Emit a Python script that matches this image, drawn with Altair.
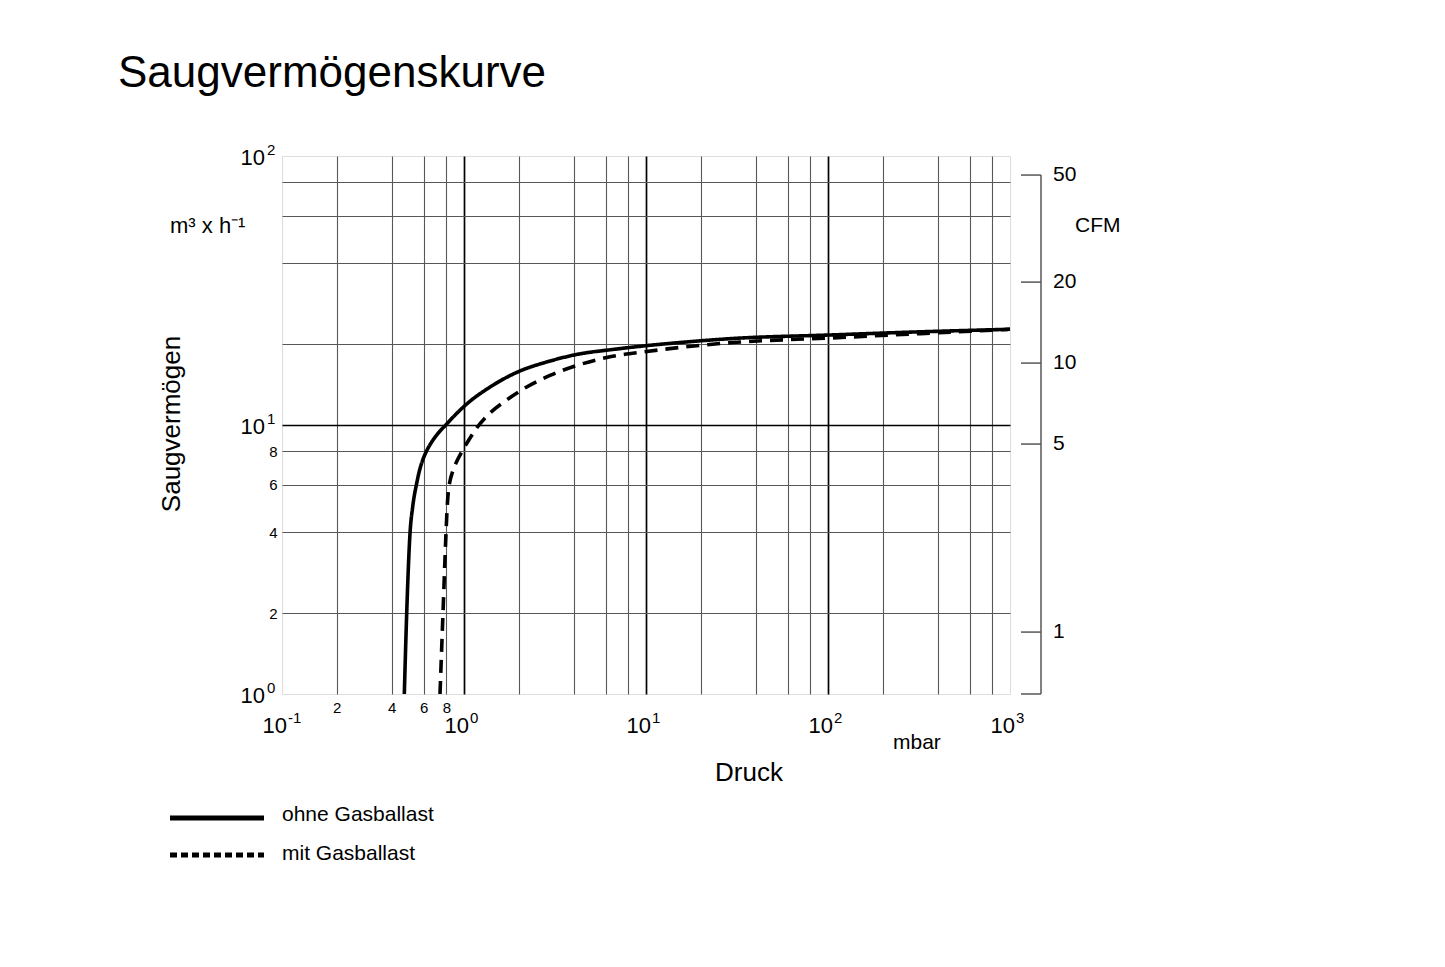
import altair as alt
import pandas as pd

# ---------------- data ----------------
series_names = ["ohne Gasballast", "mit Gasballast"]

druck_ohne = [0.470, 0.4844, 0.5051, 0.5226, 0.5496, 0.5731, 0.5976, 0.6238, 0.6783, 0.8034, 1.035, 1.390, 2.031, 2.848, 4.161, 6.587, 10.26, 15.38, 30.06, 102.6, 300.6, 1000.0]
saug_ohne = [1.00, 2.00, 3.958, 4.97, 6.07, 6.885, 7.508, 8.02, 8.825, 10.09, 11.97, 13.84, 15.88, 17.15, 18.29, 19.09, 19.75, 20.26, 20.97, 21.61, 22.17, 22.69]

druck_mit = [0.7382, 0.7666, 0.7963, 0.8087, 0.8197, 0.8378, 0.8646, 0.9036, 0.9714, 1.0585, 1.1744, 1.390, 1.716, 2.118, 2.969, 4.161, 6.083, 10.09, 15.38, 30.06, 102.6, 377.5, 1000.0]
saug_mit = [1.00, 2.00, 3.96, 4.97, 5.635, 6.193, 6.688, 7.223, 7.94, 8.758, 9.746, 11.08, 12.39, 13.61, 15.28, 16.64, 17.82, 18.76, 19.42, 20.26, 21.06, 21.98, 22.69]

x_grid = [0.2, 0.4, 0.6, 0.8, 1, 2, 4, 6, 8, 10, 20, 40, 60, 80, 100, 200, 400, 600, 800]
y_grid = [2, 4, 6, 8, 10, 20, 40, 60, 80]
x_decades = [0.1, 1, 10, 100, 1000]
x_exps = ["-1", "0", "1", "2", "3"]
y_decades = [1, 10, 100]
y_exps = ["0", "1", "2"]
cfm_ticks = [1, 5, 10, 20, 50]
CFM_TO_M3H = 1.699

# ---------------- layout / style ----------------
W, H = 728, 538
FONT = "Liberation Sans"
GRID_GRAY = "#575757"

curves = pd.DataFrame({
    "druck": druck_ohne + druck_mit,
    "saug": saug_ohne + saug_mit,
    "serie": [series_names[0]] * len(druck_ohne) + [series_names[1]] * len(druck_mit),
})

xscale = alt.Scale(type="log", domain=[0.1, 1000])
yscale = alt.Scale(type="log", domain=[1, 100])

dec_x = "datum.value == 1 || datum.value == 10 || datum.value == 100"
dec_y = "datum.value == 10"

x_axis = alt.Axis(
    values=x_grid, grid=True, ticks=False, domain=False, title=None,
    gridColor={"condition": {"test": dec_x, "value": "#000000"}, "value": GRID_GRAY},
    gridWidth={"condition": {"test": dec_x, "value": 1.7}, "value": 1.1},
    labelExpr="(datum.value > 0.15 && datum.value < 0.9) ? format(datum.value * 10, 'd') : ''",
    labelFont=FONT, labelFontSize=15, labelColor="#000", labelPadding=6,
    labelOverlap=False, labelFlush=False,
)
y_axis = alt.Axis(
    values=y_grid, grid=True, ticks=False, domain=False, title=None,
    gridColor={"condition": {"test": dec_y, "value": "#000000"}, "value": GRID_GRAY},
    gridWidth={"condition": {"test": dec_y, "value": 1.7}, "value": 1.1},
    labelExpr="(datum.value > 1.5 && datum.value < 9) ? format(datum.value, 'd') : ''",
    labelFont=FONT, labelFontSize=15, labelColor="#000", labelPadding=5,
    labelOverlap=False, labelFlush=False,
)

lines = alt.Chart(curves).mark_line(interpolate="monotone", strokeWidth=3.6, color="#000").encode(
    x=alt.X("druck:Q", scale=xscale, axis=x_axis),
    y=alt.Y("saug:Q", scale=yscale, axis=y_axis),
    strokeDash=alt.StrokeDash("serie:N", scale=alt.Scale(domain=series_names, range=[[1, 0], [13, 8]]), legend=None),
)

# decade labels on x axis
xdec = pd.DataFrame({"druck": x_decades, "exp": x_exps})
xdec_base = alt.Chart(xdec).mark_text(align="right", baseline="alphabetic", font=FONT, fontSize=22, dx=5, color="#000").encode(
    x="druck:Q", y=alt.value(H + 39), text=alt.value("10"))
xdec_exp = alt.Chart(xdec).mark_text(align="left", baseline="alphabetic", font=FONT, fontSize=15, dx=6, color="#000").encode(
    x="druck:Q", y=alt.value(H + 29), text="exp:N")

# decade labels on y axis
ydec = pd.DataFrame({"saug": y_decades, "exp": y_exps})
ydec_base = alt.Chart(ydec).mark_text(align="right", baseline="alphabetic", font=FONT, fontSize=22, dy=9, color="#000").encode(
    y="saug:Q", x=alt.value(-17), text=alt.value("10"))
ydec_exp = alt.Chart(ydec).mark_text(align="left", baseline="alphabetic", font=FONT, fontSize=15, dy=-1, color="#000").encode(
    y="saug:Q", x=alt.value(-15), text="exp:N")

# right CFM axis
cfm_df = pd.DataFrame({"cfm": cfm_ticks})
cfm_df["saug"] = cfm_df["cfm"] * CFM_TO_M3H
cfm_top = cfm_df[cfm_df["cfm"] == max(cfm_ticks)]
cfm_ticks_layer = alt.Chart(cfm_df).mark_rule(color=GRID_GRAY, strokeWidth=1.5).encode(
    y="saug:Q", x=alt.value(W + 11), x2=alt.value(W + 31))
cfm_bottom = alt.Chart(cfm_top).mark_rule(color=GRID_GRAY, strokeWidth=1.5).encode(
    y=alt.value(H), x=alt.value(W + 11), x2=alt.value(W + 31))
cfm_line = alt.Chart(cfm_top).mark_rule(color=GRID_GRAY, strokeWidth=1.5).encode(
    x=alt.value(W + 31), y="saug:Q", y2=alt.value(H))
cfm_labels = alt.Chart(cfm_df).mark_text(align="left", baseline="middle", font=FONT, fontSize=21, color="#000").encode(
    y="saug:Q", x=alt.value(W + 43), text="cfm:Q")


def label(txt, x, y, size, align="left", baseline="alphabetic", angle=0):
    return alt.Chart(pd.DataFrame({"t": [txt]})).mark_text(
        align=align, baseline=baseline, font=FONT, fontSize=size, angle=angle, color="#000"
    ).encode(x=alt.value(x), y=alt.value(y), text="t:N")


texts = [
    label("Saugvermögenskurve", -164, -69, 44),
    label("m³ x h⁻¹", -112, 77, 22),
    label("CFM", W + 65, 76, 21),
    label("mbar", 611, 593, 21),
    label("Druck", 467, 625, 26, align="center"),
    label("Saugvermögen", -110, 268, 26, align="center", baseline="middle", angle=270),
    label(series_names[0], 0, 665, 21),
    label(series_names[1], 0, 704, 21),
]

legend_df = pd.DataFrame({"serie": series_names})
leg_solid = alt.Chart(legend_df).transform_filter(alt.datum.serie == series_names[0]).mark_rule(
    color="#000", strokeWidth=5).encode(x=alt.value(-112), x2=alt.value(-18), y=alt.value(662))
leg_dash = alt.Chart(legend_df).transform_filter(alt.datum.serie == series_names[1]).mark_rule(
    color="#000", strokeWidth=5, strokeDash=[7, 4]).encode(x=alt.value(-112), x2=alt.value(-18), y=alt.value(699))

chart = alt.layer(
    lines, xdec_base, xdec_exp, ydec_base, ydec_exp,
    cfm_ticks_layer, cfm_bottom, cfm_line, cfm_labels,
    leg_solid, leg_dash, *texts,
).properties(
    width=W, height=H,
    padding={"left": 274, "top": 148, "right": 420, "bottom": 260},
    autosize=alt.AutoSizeParams(type="none"),
).configure_view(
    stroke="#000", strokeWidth=2
).configure(background="white")

chart.save("out.html", embed_options={"renderer": "svg", "actions": False})
